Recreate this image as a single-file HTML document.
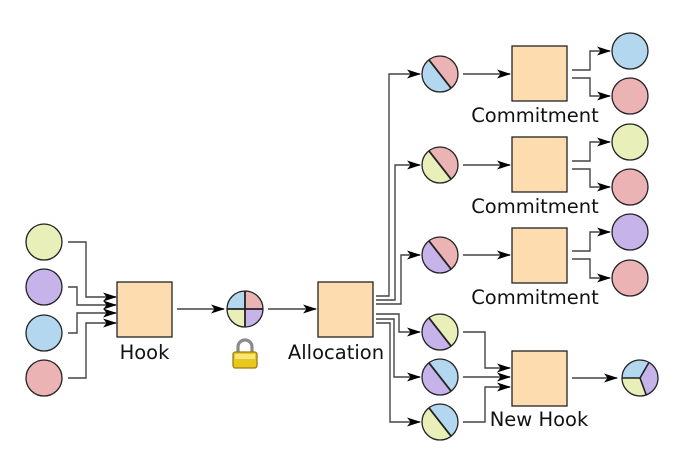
<!DOCTYPE html>
<html><head><meta charset="utf-8"><style>
html,body{margin:0;padding:0;background:#fff;}
svg{display:block;}
text{font-family:"DejaVu Sans","Liberation Sans",sans-serif;font-size:19.5px;fill:#111;}
</style></head><body>
<svg width="680" height="460" viewBox="0 0 680 460" xmlns="http://www.w3.org/2000/svg">
<defs>
<marker id="a" markerWidth="14" markerHeight="9" refX="13" refY="4.5" orient="auto" markerUnits="userSpaceOnUse">
<path d="M0,0 L14,4.5 L0,9 L3.5,4.5 Z" fill="#000"/>
</marker>
</defs>
<g fill="none" stroke="#444" stroke-width="1.4">
<path d="M68,242 H86 V297 H116" marker-end="url(#a)"/>
<path d="M68,287 H77 V305 H116" marker-end="url(#a)"/>
<path d="M68,333 H77 V313 H116" marker-end="url(#a)"/>
<path d="M68,378 H86 V323 H116" marker-end="url(#a)"/>
<path d="M177,309 H224" marker-end="url(#a)"/>
<path d="M268,309 H316" marker-end="url(#a)"/>
<path d="M376,296 H389 V74 H420" marker-end="url(#a)"/>
<path d="M376,300 H395 V165 H420" marker-end="url(#a)"/>
<path d="M376,304 H401 V255 H420" marker-end="url(#a)"/>
<path d="M376,314 H399 V332 H420" marker-end="url(#a)"/>
<path d="M376,319 H394 V377 H420" marker-end="url(#a)"/>
<path d="M376,323 H390 V422 H420" marker-end="url(#a)"/>
<path d="M463,74 H510" marker-end="url(#a)"/>
<path d="M463,165 H510" marker-end="url(#a)"/>
<path d="M463,255 H510" marker-end="url(#a)"/>
<path d="M572,70 H590 V51 H610" marker-end="url(#a)"/>
<path d="M572,78 H590 V96 H610" marker-end="url(#a)"/>
<path d="M572,161 H590 V142 H610" marker-end="url(#a)"/>
<path d="M572,169 H590 V187 H610" marker-end="url(#a)"/>
<path d="M572,251 H590 V232 H610" marker-end="url(#a)"/>
<path d="M572,259 H590 V278 H610" marker-end="url(#a)"/>
<path d="M463,332 H485 V368 H510" marker-end="url(#a)"/>
<path d="M463,377 H510" marker-end="url(#a)"/>
<path d="M463,422 H485 V387 H510" marker-end="url(#a)"/>
<path d="M572,378 H617" marker-end="url(#a)"/>
</g>
<g stroke="#222" stroke-width="1.3">
<circle cx="44" cy="242" r="18" fill="#e8efb8"/>
<circle cx="44" cy="287" r="18" fill="#c5b3ea"/>
<circle cx="44" cy="333" r="18" fill="#b3d7ef"/>
<circle cx="44" cy="378" r="18" fill="#ecb3b5"/>
<rect x="117" y="282" width="55" height="55" fill="#fddcb0"/>
<rect x="318" y="282" width="55" height="55" fill="#fddcb0"/>
<rect x="512" y="46" width="55" height="55" fill="#fddcb0"/>
<rect x="512" y="137" width="55" height="55" fill="#fddcb0"/>
<rect x="512" y="228" width="55" height="55" fill="#fddcb0"/>
<rect x="512" y="351" width="55" height="55" fill="#fddcb0"/>
<g transform="translate(245,309)">
<path d="M0,0 V-18 A18,18 0 0 0 -18,0 Z" fill="#b3d7ef" stroke="none"/>
<path d="M0,0 V-18 A18,18 0 0 1 18,0 Z" fill="#ecb3b5" stroke="none"/>
<path d="M0,0 H-18 A18,18 0 0 0 0,18 Z" fill="#e8efb8" stroke="none"/>
<path d="M0,0 H18 A18,18 0 0 1 0,18 Z" fill="#c5b3ea" stroke="none"/>
<circle r="18" fill="none"/>
<path d="M-18,0 H18 M0,-18 V18" stroke-width="1.8"/>
</g>
<circle cx="630" cy="51" r="18" fill="#b3d7ef"/>
<circle cx="630" cy="96" r="18" fill="#ecb3b5"/>
<circle cx="630" cy="142" r="18" fill="#e8efb8"/>
<circle cx="630" cy="187" r="18" fill="#ecb3b5"/>
<circle cx="630" cy="232" r="18" fill="#c5b3ea"/>
<circle cx="630" cy="278" r="18" fill="#ecb3b5"/>
<g transform="translate(440,74)"><path d="M-11.1,-14.2 A18,18 0 0 1 11.1,14.2 Z" fill="#ecb3b5" stroke="none"/><path d="M11.1,14.2 A18,18 0 0 1 -11.1,-14.2 Z" fill="#b3d7ef" stroke="none"/><circle r="18" fill="none"/><path d="M-11.1,-14.2 L11.1,14.2" stroke-width="1.8"/></g>
<g transform="translate(440,165)"><path d="M-11.1,-14.2 A18,18 0 0 1 11.1,14.2 Z" fill="#ecb3b5" stroke="none"/><path d="M11.1,14.2 A18,18 0 0 1 -11.1,-14.2 Z" fill="#e8efb8" stroke="none"/><circle r="18" fill="none"/><path d="M-11.1,-14.2 L11.1,14.2" stroke-width="1.8"/></g>
<g transform="translate(440,255)"><path d="M-11.1,-14.2 A18,18 0 0 1 11.1,14.2 Z" fill="#ecb3b5" stroke="none"/><path d="M11.1,14.2 A18,18 0 0 1 -11.1,-14.2 Z" fill="#c5b3ea" stroke="none"/><circle r="18" fill="none"/><path d="M-11.1,-14.2 L11.1,14.2" stroke-width="1.8"/></g>
<g transform="translate(440,332)"><path d="M-11.1,-14.2 A18,18 0 0 1 11.1,14.2 Z" fill="#e8efb8" stroke="none"/><path d="M11.1,14.2 A18,18 0 0 1 -11.1,-14.2 Z" fill="#c5b3ea" stroke="none"/><circle r="18" fill="none"/><path d="M-11.1,-14.2 L11.1,14.2" stroke-width="1.8"/></g>
<g transform="translate(440,377)"><path d="M-11.1,-14.2 A18,18 0 0 1 11.1,14.2 Z" fill="#b3d7ef" stroke="none"/><path d="M11.1,14.2 A18,18 0 0 1 -11.1,-14.2 Z" fill="#c5b3ea" stroke="none"/><circle r="18" fill="none"/><path d="M-11.1,-14.2 L11.1,14.2" stroke-width="1.8"/></g>
<g transform="translate(440,422)"><path d="M-11.1,-14.2 A18,18 0 0 1 11.1,14.2 Z" fill="#b3d7ef" stroke="none"/><path d="M11.1,14.2 A18,18 0 0 1 -11.1,-14.2 Z" fill="#e8efb8" stroke="none"/><circle r="18" fill="none"/><path d="M-11.1,-14.2 L11.1,14.2" stroke-width="1.8"/></g>
<g transform="translate(640,378)">
<path d="M0,0 L-18,0 A18,18 0 0 1 9,-15.6 Z" fill="#b3d7ef" stroke="none"/>
<path d="M0,0 L9,-15.6 A18,18 0 0 1 6.2,16.9 Z" fill="#c5b3ea" stroke="none"/>
<path d="M0,0 L6.2,16.9 A18,18 0 0 1 -18,0 Z" fill="#e8efb8" stroke="none"/>
<circle r="18" fill="none"/>
<path d="M-18,0 L0,0 L9,-15.6 M0,0 L6.2,16.9" fill="none" stroke-width="1.6"/>
</g>
</g>
<g transform="translate(245,355)">
<path d="M-7,-2 V-8 A7,7 0 0 1 7,-8 V-2" fill="none" stroke="#8a8a8a" stroke-width="3.2"/>
<rect x="-12" y="-3" width="24" height="16" rx="2.5" fill="#e8c81c" stroke="#a07a10" stroke-width="1.3"/>
<rect x="-10" y="-1" width="20" height="5" fill="#f7e77a" stroke="none"/>
</g>
<text x="144.5" y="359" text-anchor="middle">Hook</text>
<text x="336" y="359" text-anchor="middle">Allocation</text>
<text x="535" y="122" text-anchor="middle">Commitment</text>
<text x="535" y="213" text-anchor="middle">Commitment</text>
<text x="535" y="304" text-anchor="middle">Commitment</text>
<text x="539" y="426" text-anchor="middle">New Hook</text>
</svg>
</body></html>
